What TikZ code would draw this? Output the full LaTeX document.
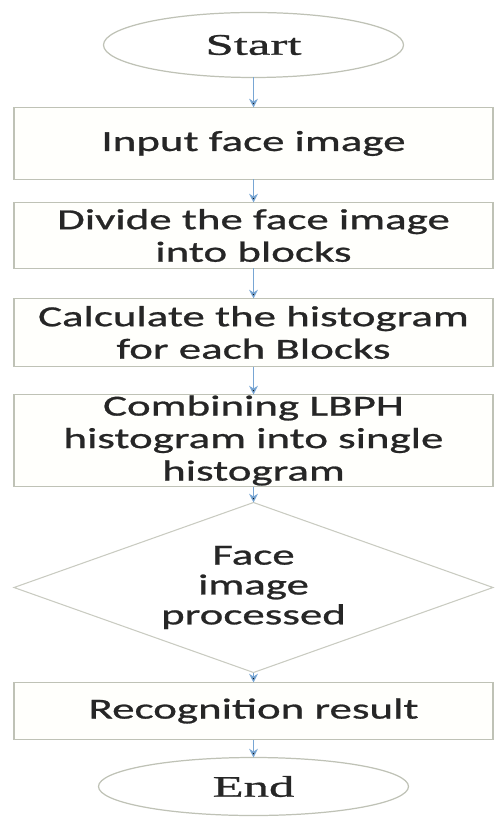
\documentclass[tikz,border=0pt]{standalone}
\usepackage{fontspec}
\setmainfont[FakeStretch=1.55,FakeBold=0.9]{Carlito}
\newfontfamily\termfont[FakeStretch=1.7,FakeBold=1]{Liberation Serif}
\usetikzlibrary{shapes.geometric,positioning,arrows.meta}
\definecolor{boxline}{HTML}{BFC2B6}
\definecolor{flowblue}{HTML}{78A6D4}
\definecolor{inktext}{HTML}{262626}

\begin{document}
\begin{tikzpicture}[>={Stealth[length=5pt,width=5pt]},outer sep=0pt,
    term node/.style={ellipse,draw=boxline,line width=0.7pt,fill=white,text=inktext,inner sep=0pt,font=\termfont\fontsize{17}{20}\selectfont},
    step node/.style={rectangle,draw=boxline,line width=0.9pt,fill=yellow!1,text=inktext,minimum width=9.58cm,align=center,inner sep=0pt,font=\fontsize{16.5}{18.5}\selectfont},
    test node/.style={diamond,draw=boxline!85,line width=0.6pt,fill=white,text=inktext,shape aspect=2.82,minimum width=9.58cm,minimum height=3.4cm,align=center,inner sep=0pt,font=\fontsize{16.5}{17}\selectfont},
    flow/.style={->,draw=flowblue,line width=0.7pt}]
    \useasboundingbox (0,0) rectangle (9.9,-16.38);

    \node[term node,minimum width=6cm,minimum height=1.3cm] (start) at (5.07,-0.9) {Start};
    \node[step node,minimum height=1.44cm] (input) [below=0.6cm of start] {Input face image};
    \node[step node,minimum height=1.32cm] (divide) [below=0.46cm of input] {Divide the face image\\into blocks};
    \node[step node,minimum height=1.36cm] (hist) [below=0.6cm of divide] {Calculate the histogram\\for each Blocks};
    \node[step node,minimum height=1.84cm] (combine) [below=0.56cm of hist] {Combining LBPH\\histogram into single\\histogram};
    \node[test node] (processed) [below=0.32cm of combine] {Face\\image\\processed};
    \node[step node,minimum height=1.14cm] (result) [below=0.2cm of processed] {Recognition result};
    \node[term node,minimum width=6.2cm,minimum height=1.16cm] (end) [below=0.36cm of result] {End};

    \path[flow]
        (start) edge (input)
        (input) edge (divide)
        (divide) edge (hist)
        (hist) edge (combine)
        (combine) edge (processed)
        (processed) edge (result)
        (result) edge (end)
    ;
\end{tikzpicture}
\end{document}
